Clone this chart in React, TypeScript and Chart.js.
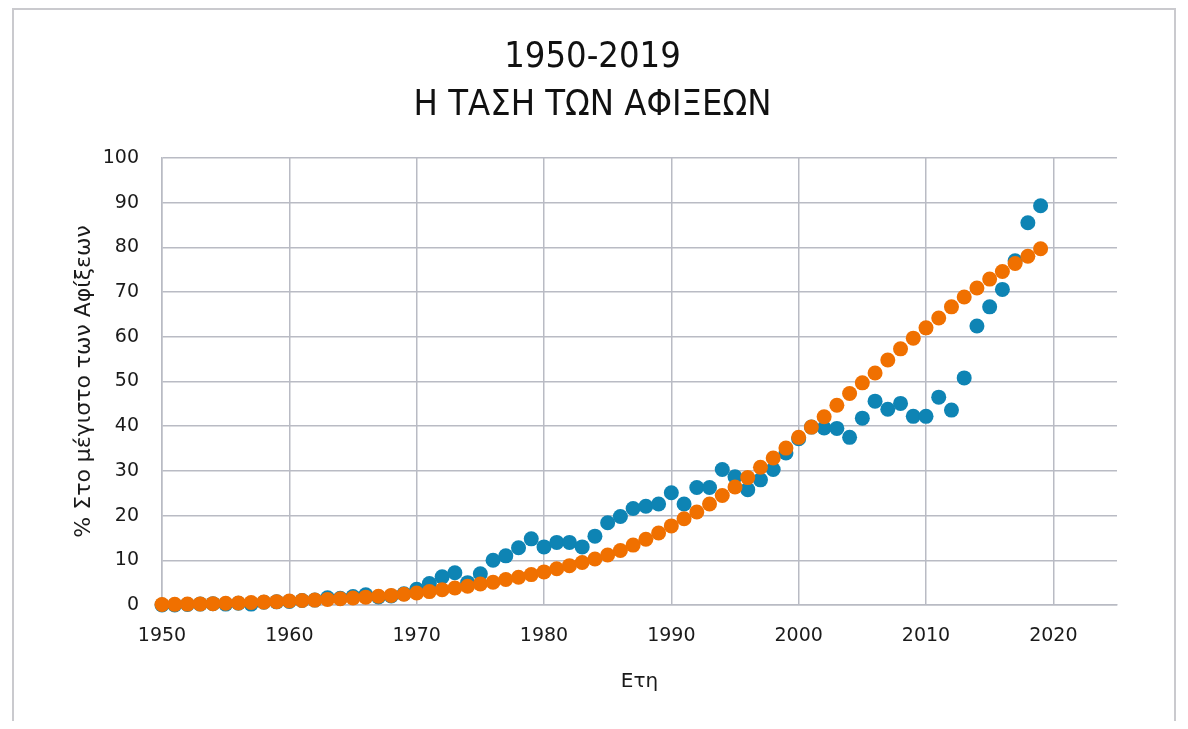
import React, { useEffect, useRef } from "react";
import { Chart, registerables } from "chart.js";

Chart.register(...registerables);

// Categories (years)
const years = [
  1950, 1951, 1952, 1953, 1954, 1955, 1956, 1957, 1958, 1959,
  1960, 1961, 1962, 1963, 1964, 1965, 1966, 1967, 1968, 1969,
  1970, 1971, 1972, 1973, 1974, 1975, 1976, 1977, 1978, 1979,
  1980, 1981, 1982, 1983, 1984, 1985, 1986, 1987, 1988, 1989,
  1990, 1991, 1992, 1993, 1994, 1995, 1996, 1997, 1998, 1999,
  2000, 2001, 2002, 2003, 2004, 2005, 2006, 2007, 2008, 2009,
  2010, 2011, 2012, 2013, 2014, 2015, 2016, 2017, 2018, 2019,
];

// Arrivals as % of maximum (blue)
const arrivalsPct = [
  0.0, 0.0, 0.1, 0.2, 0.3, 0.2, 0.4, 0.2, 0.6, 0.7,
  0.8, 1.0, 1.1, 1.6, 1.5, 1.9, 2.3, 1.8, 2.0, 2.5,
  3.5, 4.8, 6.3, 7.2, 5.0, 7.0, 10.0, 11.0, 12.8, 14.8,
  13.0, 14.0, 14.0, 13.0, 15.4, 18.4, 19.8, 21.6, 22.1, 22.6,
  25.1, 22.6, 26.3, 26.3, 30.3, 28.7, 25.8, 28.0, 30.3, 34.0,
  37.2, 39.8, 39.6, 39.5, 37.5, 41.8, 45.6, 43.8, 45.1, 42.2,
  42.2, 46.5, 43.6, 50.8, 62.4, 66.7, 70.6, 77.0, 85.5, 89.3,
];

// Trend (orange)
const trendPct = [
  0.1, 0.15, 0.2, 0.25, 0.3, 0.4, 0.45, 0.55, 0.65, 0.75,
  0.9, 1.0, 1.1, 1.25, 1.4, 1.55, 1.75, 1.95, 2.15, 2.4,
  2.7, 3.0, 3.4, 3.8, 4.2, 4.7, 5.1, 5.7, 6.2, 6.8,
  7.4, 8.1, 8.8, 9.5, 10.3, 11.2, 12.2, 13.4, 14.7, 16.1,
  17.7, 19.3, 20.8, 22.6, 24.5, 26.4, 28.5, 30.8, 32.9, 35.1,
  37.5, 39.8, 42.1, 44.7, 47.3, 49.7, 51.9, 54.8, 57.3, 59.7,
  62.0, 64.2, 66.7, 68.9, 70.9, 72.9, 74.6, 76.4, 78.0, 79.7,
];

// Tick labels
const xTickValues = [1950, 1960, 1970, 1980, 1990, 2000, 2010, 2020];
const yTickValues = [0, 10, 20, 30, 40, 50, 60, 70, 80, 90, 100];

const titleLines = ["1950-2019", "Η ΤΑΣΗ ΤΩΝ ΑΦΙΞΕΩΝ"];
const xTitle = "Ετη";
const yTitle = "% Στο μέγιστο των Αφίξεων";

const BLUE = "#0e84b4";
const ORANGE = "#f07000";
const GRID = "#b9bbc4";
const TEXT = "#1a1a1a";
const TICK_FONT = { family: "'DejaVu Sans', Verdana, sans-serif", size: 19 };
const X_TITLE_FONT = { family: "'DejaVu Sans', Verdana, sans-serif", size: 20 };
const Y_TITLE_FONT = { family: "'DejaVu Sans', Verdana, sans-serif", size: 22 };

export default function App() {
  const canvasRef = useRef<HTMLCanvasElement | null>(null);

  useEffect(() => {
    const canvas = canvasRef.current;
    if (!canvas) return;
    const chart = new Chart(canvas, {
      type: "scatter",
      data: {
        datasets: [
          {
            label: "Τάση",
            data: years.map((y, i) => ({ x: y, y: trendPct[i] })),
            backgroundColor: ORANGE,
            borderWidth: 0,
            pointRadius: 7.5,
            pointHoverRadius: 7.5,
            clip: false,
            order: 0,
          },
          {
            label: "Αφίξεις",
            data: years.map((y, i) => ({ x: y, y: arrivalsPct[i] })),
            backgroundColor: BLUE,
            borderWidth: 0,
            pointRadius: 7.5,
            pointHoverRadius: 7.5,
            clip: false,
            order: 1,
          },
        ],
      },
      options: {
        responsive: false,
        animation: false,
        events: [],
        layout: { padding: { left: 60, right: 63, top: 0, bottom: 16 } },
        plugins: {
          legend: { display: false },
          tooltip: { enabled: false },
          title: {
            display: true,
            text: titleLines,
            color: "#111111",
            font: {
              family: "'Liberation Sans Narrow', 'Arial Narrow', 'DejaVu Sans Condensed', sans-serif",
              size: 36,
              weight: "normal",
              lineHeight: 1.333,
            },
            padding: { top: 26, bottom: 28 },
          },
        },
        scales: {
          x: {
            type: "linear",
            min: 1950,
            max: 2025,
            afterBuildTicks: (scale: any) => {
              scale.ticks = xTickValues.map((v) => ({ value: v }));
            },
            afterFit: (scale: any) => {
              scale.height = 100;
            },
            grid: { color: GRID, lineWidth: 1.5, drawTicks: false },
            border: { color: GRID, width: 1.5 },
            ticks: {
              padding: 20,
              color: TEXT,
              font: TICK_FONT,
              maxRotation: 0,
              autoSkip: false,
              callback: (v: any) => String(v),
            },
            title: {
              display: true,
              text: xTitle,
              color: TEXT,
              font: X_TITLE_FONT,
              padding: { top: 0, bottom: 11 },
            },
          },
          y: {
            type: "linear",
            min: 0,
            max: 100,
            afterBuildTicks: (scale: any) => {
              scale.ticks = yTickValues.map((v) => ({ value: v }));
            },
            afterFit: (scale: any) => {
              scale.width = 94;
            },
            grid: { color: GRID, lineWidth: 1.5, drawTicks: false },
            border: { color: GRID, width: 1.5 },
            ticks: {
              padding: 23,
              color: TEXT,
              font: TICK_FONT,
              autoSkip: false,
              callback: (v: any) => String(v),
            },
            title: {
              display: true,
              text: yTitle,
              color: TEXT,
              font: Y_TITLE_FONT,
              padding: { top: 3, bottom: 0 },
            },
          },
        },
      },
    } as any);
    return () => chart.destroy();
  }, []);

  return (
    <div style={{ position: "relative", width: 1172, height: 713, overflow: "hidden" }}>
      <div
        style={{
          position: "absolute",
          left: 4,
          top: 0,
          width: 1164,
          height: 760,
          boxSizing: "border-box",
          border: "2px solid #cacace",
          background: "#ffffff",
        }}
      />
      <canvas
        ref={canvasRef}
        width={1172}
        height={713}
        style={{ position: "absolute", left: 0, top: 0, width: 1172, height: 713 }}
      />
    </div>
  );
}
